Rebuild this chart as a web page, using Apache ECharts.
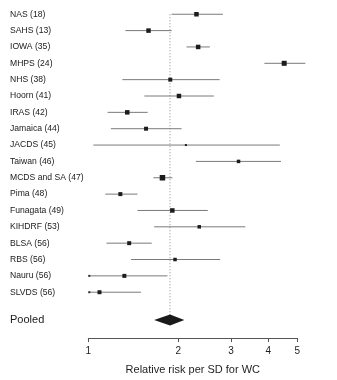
<!DOCTYPE html>
<html>
<head>
<meta charset="utf-8">
<script src="https://cdn.jsdelivr.net/npm/echarts@6/dist/echarts.min.js"></script>
<style>
  html, body { margin: 0; padding: 0; background: #fff; }
  #chart { width: 337px; height: 380px; }
</style>
</head>
<body>
<div id="chart"></div>
<script>
// Study cohorts (with follow-up years) and their relative risk per SD of waist circumference
const studies = [
  'NAS (18)', 'SAHS (13)', 'IOWA (35)', 'MHPS (24)', 'NHS (38)', 'Hoorn (41)',
  'IRAS (42)', 'Jamaica (44)', 'JACDS (45)', 'Taiwan (46)', 'MCDS and SA (47)',
  'Pima (48)', 'Funagata (49)', 'KIHDRF (53)', 'BLSA (56)', 'RBS (56)',
  'Nauru (56)', 'SLVDS (56)'
];
const estimate = [2.30, 1.59, 2.33, 4.52, 1.88, 2.01, 1.35, 1.56, 2.12, 3.18, 1.77,
  1.28, 1.91, 2.35, 1.37, 1.95, 1.32, 1.09];
const lower = [1.90, 1.33, 2.13, 3.88, 1.30, 1.54, 1.16, 1.19, 1.04, 2.29, 1.65,
  1.14, 1.46, 1.66, 1.15, 1.39, 0.97, 0.98];
const upper = [2.82, 1.90, 2.55, 5.32, 2.75, 2.63, 1.58, 2.05, 4.37, 4.41, 1.91,
  1.46, 2.51, 3.35, 1.63, 2.76, 1.84, 1.50];
// Relative study weights (%)
const weight = [6.6, 6.6, 6.6, 8.2, 5.2, 6.6, 6.6, 5.2, 1.3, 4.0, 9.9,
  5.2, 6.6, 4.0, 5.2, 4.0, 5.2, 5.2];

// Pooled estimate with its confidence limits
const pooledLabel = 'Pooled';
const pooled = [1.876, 1.66, 2.095];

const xTicks = [1, 2, 3, 4, 5];
const xTitle = 'Relative risk per SD for WC';

const POOLED_ROW = 18.7;
const X_MIN = 1, X_MAX = 5;

const studyData = studies.map((s, i) => [estimate[i], i, lower[i], upper[i], weight[i]]);

const chart = echarts.init(document.getElementById('chart'), null, { renderer: 'canvas' });

function renderStudy(params, api) {
  const est = api.value(0), row = api.value(1);
  const lo = api.value(2), hi = api.value(3), w = api.value(4);
  const clipped = lo < X_MIN;
  const pLo = api.coord([Math.max(lo, X_MIN), row]);
  const pHi = api.coord([hi, row]);
  const pEst = api.coord([est, row]);
  const side = 1.75 * Math.sqrt(w);
  const children = [
    {
      type: 'line',
      shape: { x1: pLo[0], y1: pLo[1], x2: pHi[0], y2: pHi[1] },
      style: { stroke: '#7a7a7a', lineWidth: 1 }
    },
    {
      type: 'rect',
      shape: { x: pEst[0] - side / 2, y: pEst[1] - side / 2, width: side, height: side },
      style: { fill: '#1c1c1c' }
    }
  ];
  if (clipped) {
    children.push({
      type: 'rect',
      shape: { x: pLo[0], y: pLo[1] - 1, width: 2, height: 2 },
      style: { fill: '#333' }
    });
  }
  return { type: 'group', children };
}

function renderPooled(params, api) {
  const row = api.value(1);
  const c = api.coord([api.value(0), row]);
  const l = api.coord([api.value(2), row]);
  const r = api.coord([api.value(3), row]);
  const h = 5.5;
  return {
    type: 'polygon',
    shape: { points: [[l[0], c[1]], [c[0], c[1] - h], [r[0], c[1]], [c[0], c[1] + h]] },
    style: { fill: '#1a1a1a' }
  };
}

const yLabelValues = studies.map((s, i) => i).concat([POOLED_ROW]);

chart.setOption({
  animation: false,
  backgroundColor: '#ffffff',
  grid: { left: 88.3, right: 39.7, top: 1.17, bottom: 40.7, containLabel: false },
  xAxis: {
    type: 'log',
    logBase: 10,
    position: 'bottom',
    min: X_MIN,
    max: X_MAX,
    name: xTitle,
    nameLocation: 'middle',
    nameGap: 26,
    nameTextStyle: { fontFamily: 'Liberation Sans, Arial, sans-serif', fontSize: 11, color: '#1e1e1e' },
    axisLine: { show: true, onZero: false, lineStyle: { color: '#555', width: 1 } },
    axisTick: { show: true, inside: false, length: 4, customValues: xTicks, lineStyle: { color: '#555' } },
    axisLabel: {
      customValues: xTicks,
      margin: 8,
      fontFamily: 'Liberation Sans, Arial, sans-serif',
      fontSize: 10,
      color: '#1e1e1e',
      formatter: v => String(Math.round(v))
    },
    splitLine: { show: false },
    minorTick: { show: false }
  },
  yAxis: {
    type: 'value',
    inverse: true,
    min: -0.8,
    max: 19.8,
    axisLine: { show: false, onZero: false },
    axisTick: { show: false },
    splitLine: { show: false },
    axisLabel: {
      customValues: yLabelValues,
      align: 'left',
      margin: 78.3,
      fontFamily: 'Liberation Sans, Arial, sans-serif',
      fontSize: 8.6,
      color: '#1a1a1a',
      formatter: v => {
        if (Math.abs(v - POOLED_ROW) < 1e-6) return '{p|' + pooledLabel + '}';
        return studies[Math.round(v)] || '';
      },
      rich: {
        p: { fontFamily: 'Liberation Sans, Arial, sans-serif', fontSize: 11, color: '#1a1a1a' }
      }
    }
  },
  series: [
    {
      // reference line at the pooled estimate
      type: 'line',
      data: [[pooled[0], 0], [pooled[0], POOLED_ROW]],
      symbol: 'none',
      silent: true,
      clip: false,
      lineStyle: { color: '#8a8a8a', width: 1, type: [1, 2] },
      z: 1
    },
    {
      type: 'custom',
      data: studyData,
      renderItem: renderStudy,
      clip: false,
      silent: true,
      z: 2
    },
    {
      type: 'custom',
      data: [[pooled[0], POOLED_ROW, pooled[1], pooled[2]]],
      renderItem: renderPooled,
      clip: false,
      silent: true,
      z: 3
    }
  ]
});
</script>
</body>
</html>
